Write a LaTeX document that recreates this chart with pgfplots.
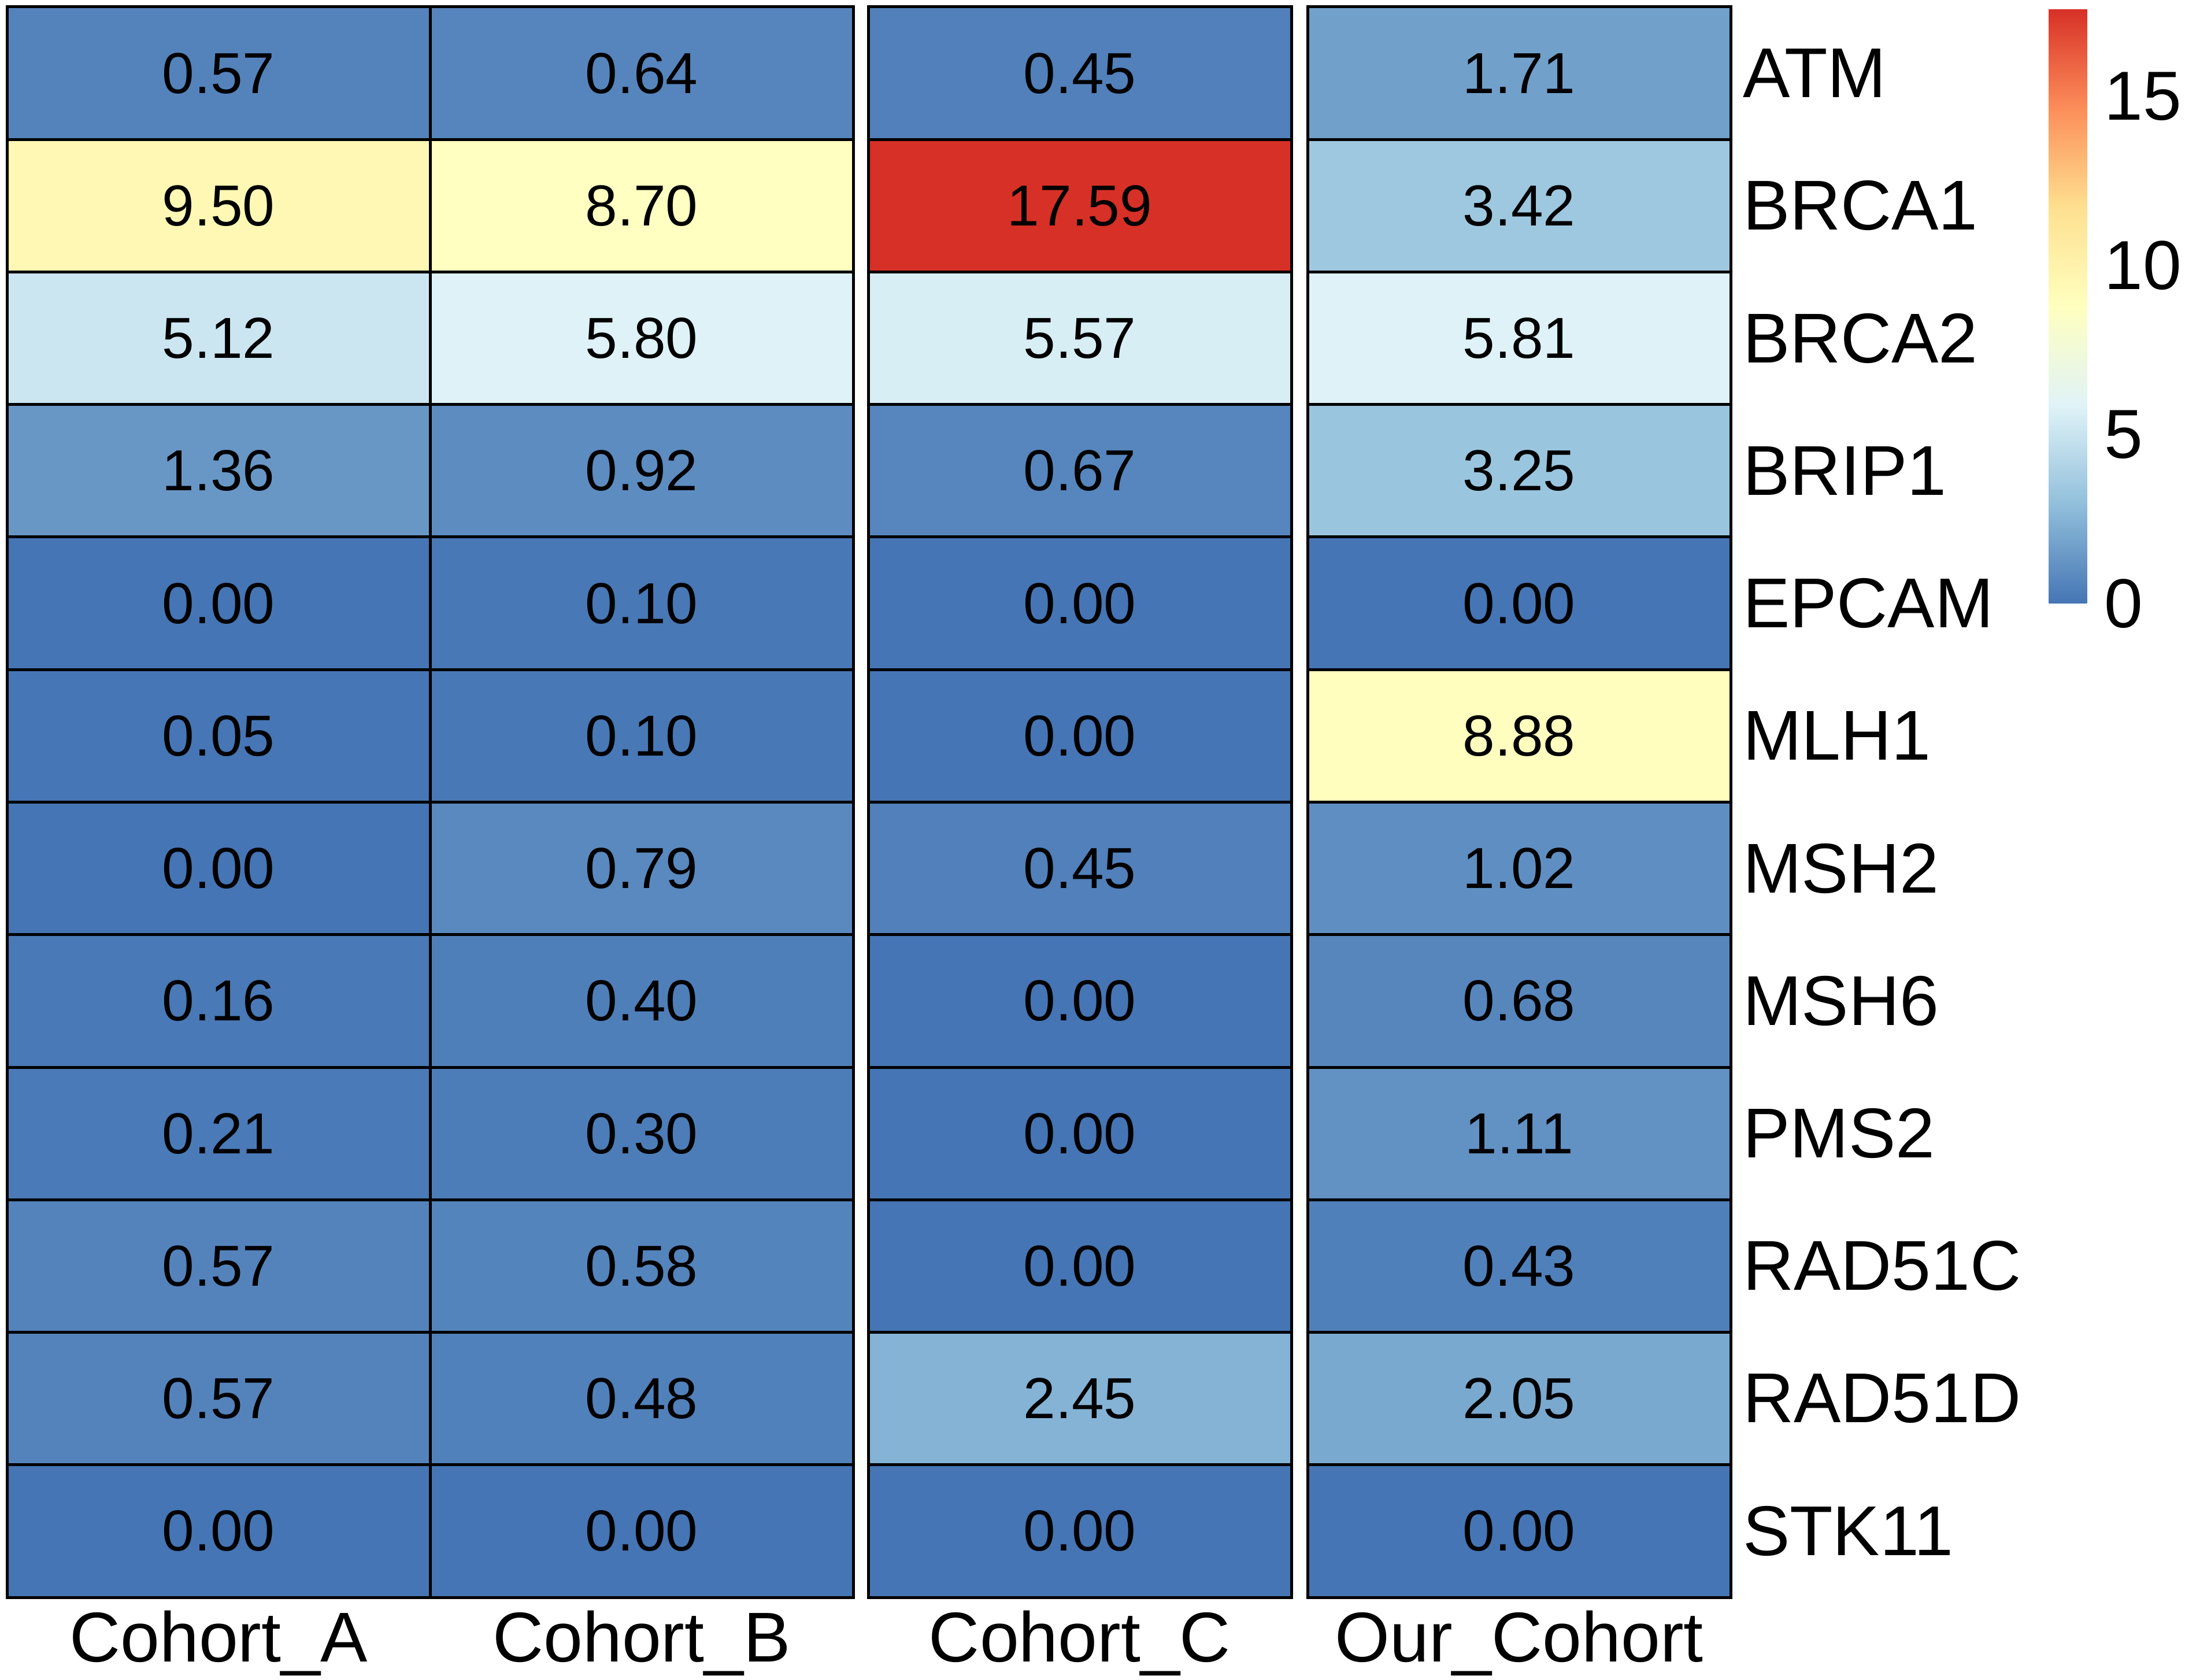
\documentclass[border=0pt]{standalone}
\usepackage{fontspec}
\setmainfont{Liberation Sans}
\usepackage{pgfplots}
\usepackage{pgfplotstable}
\pgfplotsset{compat=1.18}

% rows of the heatmap, one column per cohort
\pgfplotstableread{
row gene   A     B     C     D
1   ATM    0.57  0.64  0.45  1.71
2   BRCA1  9.50  8.70  17.59 3.42
3   BRCA2  5.12  5.80  5.57  5.81
4   BRIP1  1.36  0.92  0.67  3.25
5   EPCAM  0.00  0.10  0.00  0.00
6   MLH1   0.05  0.10  0.00  8.88
7   MSH2   0.00  0.79  0.45  1.02
8   MSH6   0.16  0.40  0.00  0.68
9   PMS2   0.21  0.30  0.00  1.11
10  RAD51C 0.57  0.58  0.00  0.43
11  RAD51D 0.57  0.48  2.45  2.05
12  STK11  0.00  0.00  0.00  0.00
}\datatable

% one heatmap cell: 73.2pt x 22.925pt
\pgfdeclareplotmark{cell}{%
  \pgfpathrectangle{\pgfpoint{-36.6pt}{-11.4625pt}}{\pgfpoint{73.2pt}{22.925pt}}%
  \pgfusepathqfillstroke}

\pgfplotsset{
  /pgf/number format/assume math mode=true,
  % coloured cells
  heatcell/.style={
    scatter, only marks, mark=cell, point meta=explicit,
    scatter/use mapped color={draw=black, fill=mapped color},
    mark options={line width=0.5pt},
  },
  % numbers inside the cells, as a separate plot
  % (nodes near coords on the scatter plot loses the mapped colours)
  cellnumber/.style={
    only marks, mark=*, mark size=0pt, point meta=explicit,
    nodes near coords={\pgfmathprintnumber[fixed,fixed zerofill,precision=2]{\pgfplotspointmeta}},
    nodes near coords align=center,
    every node near coord/.append style={anchor=center, inner sep=0pt, text=black,
      font=\fontsize{10}{12}\selectfont},
  },
}

\begin{document}
\begin{tikzpicture}
\path[use as bounding box] (0,0) rectangle (378pt,-290.6pt);
\begin{axis}[
  at={(1.2pt,-1.2pt)}, anchor=north west,
  scale only axis, width=298.2pt, height=275.1pt,
  xmin=0, xmax=2982, ymin=0.5, ymax=12.5, y dir=reverse,
  clip=false,
  axis line style={draw=none},
  major tick length=0pt,
  tick label style={font=\fontsize{12.2}{14}\selectfont},
  xtick={366,1098,1856,2616},
  xticklabels={Cohort\_A,Cohort\_B,Cohort\_C,Our\_Cohort},
  xticklabel style={anchor=north, inner sep=0pt, yshift=-2.1pt},
  ytick={1,...,12},
  yticklabels from table={\datatable}{gene},
  yticklabel pos=right,
  yticklabel style={anchor=west, inner sep=0pt, xshift=1.9pt},
  colormap={rdylbu}{rgb255=(69,117,180) rgb255=(145,191,219) rgb255=(224,243,248)
    rgb255=(255,255,191) rgb255=(254,224,144) rgb255=(252,141,89) rgb255=(215,48,39)},
  point meta min=0, point meta max=17.59,
  colorbar,
  colorbar style={
    at={(parent axis.north east)}, anchor=north west,
    xshift=46.5pt, yshift=-0.3pt,
    width=6.6pt, height=102.9pt,
    axis line style={draw=none},
    major tick length=0pt,
    ytick={0,5,10,15},
    yticklabel pos=right,
    yticklabel style={anchor=west, inner sep=0pt, xshift=2.8pt,
      font=\fontsize{12}{14}\selectfont},
  },
]
\addplot[heatcell] table[x expr=366,  y=row, meta=A] {\datatable};
\addplot[heatcell] table[x expr=1098, y=row, meta=B] {\datatable};
\addplot[heatcell] table[x expr=1856, y=row, meta=C] {\datatable};
\addplot[heatcell] table[x expr=2616, y=row, meta=D] {\datatable};
\addplot[cellnumber] table[x expr=366,  y=row, meta=A] {\datatable};
\addplot[cellnumber] table[x expr=1098, y=row, meta=B] {\datatable};
\addplot[cellnumber] table[x expr=1856, y=row, meta=C] {\datatable};
\addplot[cellnumber] table[x expr=2616, y=row, meta=D] {\datatable};
\end{axis}
\end{tikzpicture}
\end{document}
